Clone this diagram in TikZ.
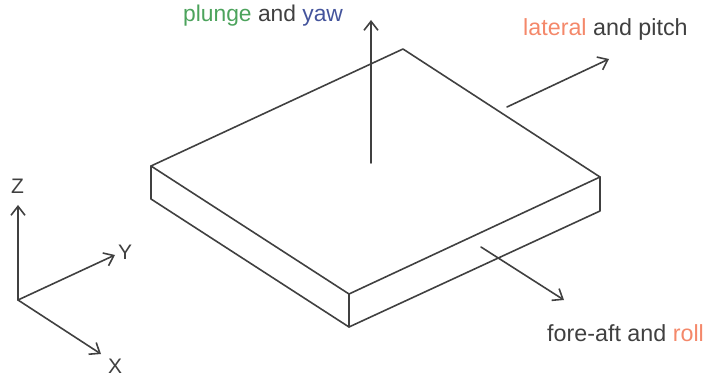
\documentclass[tikz,border=0pt]{standalone}
\usepackage{fontspec}
\setmainfont{Liberation Sans}
\usetikzlibrary{arrows.meta}
\definecolor{ink}{HTML}{404040}
\definecolor{pgreen}{HTML}{4CA35C}
\definecolor{pblue}{HTML}{44549C}
\definecolor{porange}{HTML}{F4886A}
\tikzset{
  edge/.style={draw=ink,line width=1.6pt,line cap=round,line join=round},
  arrowline/.style={edge,-{Straight Barb[length=9pt,width=14pt,line width=1.6pt]}},
  lbl/.style={text=ink,font=\fontsize{23.3}{26}\selectfont,inner sep=0pt,anchor=base west},
  axis/.style={text=ink,font=\fontsize{21}{24}\selectfont,inner sep=0pt,anchor=base west}
}
\begin{document}
\begin{tikzpicture}[x=1pt,y=-1pt]
\useasboundingbox (0,0) rectangle (706,379);
\coordinate (T) at (403,49);
\coordinate (L) at (151,166);
\coordinate (R) at (600,177);
\coordinate (F) at (349,294);
\coordinate (LB) at (151,199);
\coordinate (RB) at (600,211);
\coordinate (FB) at (349,327);
\draw[edge] (T) -- (R) -- (F) -- (L) -- cycle;
\draw[edge] (L) -- (LB) -- (FB) -- (RB) -- (R);
\draw[edge] (F) -- (FB);
\coordinate (ps) at (371,163); \coordinate (pe) at (371,20);
\coordinate (ls) at (507,107); \coordinate (le) at (609,59);
\coordinate (fs) at (481,247); \coordinate (fe) at (564,300);
\coordinate (O) at (18,300); \coordinate (zE) at (18,205);
\coordinate (yE) at (115,255); \coordinate (xE) at (101,354);
\draw[arrowline] (ps) -- (pe);
\draw[arrowline] (ls) -- (le);
\draw[arrowline] (fs) -- (fe);
\draw[arrowline] (O) -- (zE);
\draw[arrowline] (O) -- (yE);
\draw[arrowline] (O) -- (xE);
\node[lbl,font=\fontsize{22.8}{26}\selectfont] (plabel) at (183,22) {\textcolor{pgreen}{plunge} and \textcolor{pblue}{yaw}};
\node[lbl] (llabel) at (523,36) {\textcolor{porange}{lateral} and pitch};
\node[lbl] (flabel) at (547,341) {fore-aft and \textcolor{porange}{roll}};
\node[axis] (zlabel) at (11,194) {Z};
\node[axis] (ylabel) at (118,259) {Y};
\node[axis] (xlabel) at (108,373) {X};
\end{tikzpicture}
\end{document}
